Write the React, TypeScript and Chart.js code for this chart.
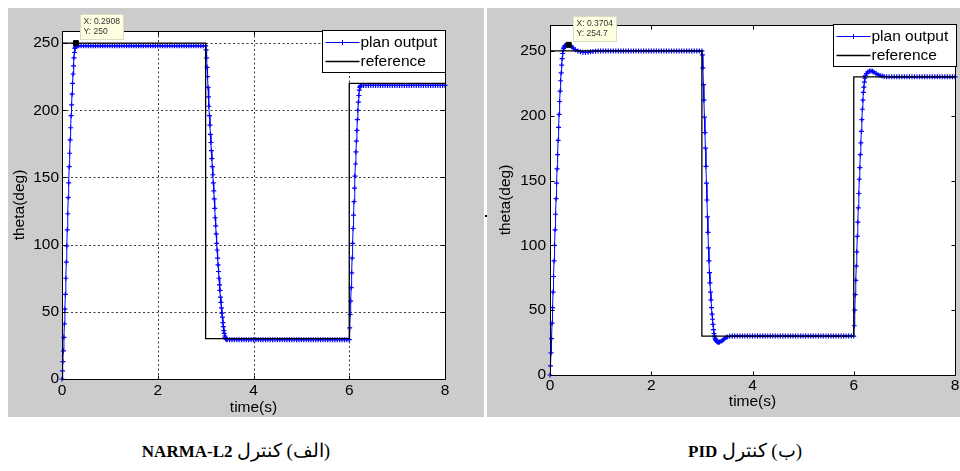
import React, { useEffect, useRef } from "react";
import { Chart, registerables } from "chart.js";

Chart.register(...registerables);

const FONT = '"Liberation Sans", Arial, Helvetica, sans-serif';

const X_TICKS = [0, 2, 4, 6, 8];
const Y_TICKS = [0, 50, 100, 150, 200, 250];
const SERIES_LABELS = ["plan output", "reference"];
const X_TITLE = "time(s)";
const Y_TITLE = "theta(deg)";

// ---------- (a) NARMA-L2 controller ----------
const NARMA_TIME = [
  0, 0.01, 0.02, 0.03, 0.04, 0.05, 0.06, 0.07, 0.08, 0.09, 0.1, 0.11, 0.12, 0.13, 0.14, 0.15, 0.16, 0.17, 0.18, 0.19, 0.2, 0.21, 0.22, 0.23, 0.24, 0.25, 0.26, 0.27, 0.28, 0.29,
  0.3, 0.35, 0.4, 0.45, 0.5, 0.55, 0.6, 0.65, 0.7, 0.75, 0.8, 0.85, 0.9, 0.95, 1, 1.05, 1.1, 1.15, 1.2, 1.25, 1.3, 1.35, 1.4, 1.45, 1.5, 1.55, 1.6, 1.65, 1.7, 1.75, 1.8, 1.85, 1.9, 1.95, 2, 2.05, 2.1, 2.15, 2.2, 2.25, 2.3, 2.35, 2.4, 2.45, 2.5, 2.55, 2.6, 2.65, 2.7, 2.75, 2.8, 2.85, 2.9, 2.95, 3,
  3.01, 3.02, 3.03, 3.04, 3.05, 3.06, 3.07, 3.08, 3.09, 3.1, 3.11, 3.12, 3.13, 3.14, 3.15, 3.16, 3.17, 3.18, 3.19, 3.2, 3.21, 3.22, 3.23, 3.24, 3.25, 3.26, 3.27, 3.28, 3.29, 3.3, 3.31, 3.32, 3.33, 3.34, 3.35, 3.36, 3.37, 3.38, 3.39, 3.4, 3.41, 3.42, 3.43,
  3.45, 3.5, 3.55, 3.6, 3.65, 3.7, 3.75, 3.8, 3.85, 3.9, 3.95, 4, 4.05, 4.1, 4.15, 4.2, 4.25, 4.3, 4.35, 4.4, 4.45, 4.5, 4.55, 4.6, 4.65, 4.7, 4.75, 4.8, 4.85, 4.9, 4.95, 5, 5.05, 5.1, 5.15, 5.2, 5.25, 5.3, 5.35, 5.4, 5.45, 5.5, 5.55, 5.6, 5.65, 5.7, 5.75, 5.8, 5.85, 5.9, 5.95, 6,
  6.01, 6.02, 6.03, 6.04, 6.05, 6.06, 6.07, 6.08, 6.09, 6.1, 6.11, 6.12, 6.13, 6.14, 6.15, 6.16, 6.17, 6.18, 6.19, 6.2, 6.21, 6.22, 6.23, 6.24,
  6.25, 6.3, 6.35, 6.4, 6.45, 6.5, 6.55, 6.6, 6.65, 6.7, 6.75, 6.8, 6.85, 6.9, 6.95, 7, 7.05, 7.1, 7.15, 7.2, 7.25, 7.3, 7.35, 7.4, 7.45, 7.5, 7.55, 7.6, 7.65, 7.7, 7.75, 7.8, 7.85, 7.9, 7.95, 8,
];
const NARMA_OUTPUT = [
  0, 6, 13, 21, 31, 41, 52, 63, 75, 87, 99, 111, 123, 135, 146, 158, 168, 178, 187, 196, 204, 212, 220, 227, 233, 239, 243, 246, 247, 247.5,
  248, 248, 248, 248, 248, 248, 248, 248, 248, 248, 248, 248, 248, 248, 248, 248, 248, 248, 248, 248, 248, 248, 248, 248, 248, 248, 248, 248, 248, 248, 248, 248, 248, 248, 248, 248, 248, 248, 248, 248, 248, 248, 248, 248, 248, 248, 248, 248, 248, 248, 248, 248, 248, 248, 248,
  245, 239, 232, 225, 217, 210, 203, 196, 189, 182, 176, 170, 164, 158, 152, 146, 140, 134, 127, 120, 114, 108, 101, 96, 90, 85, 80, 75, 70, 66, 61, 57, 53, 49, 46, 42, 39, 36, 34, 32, 31, 30, 29.5,
  29.3, 29.3, 29.3, 29.3, 29.3, 29.3, 29.3, 29.3, 29.3, 29.3, 29.3, 29.3, 29.3, 29.3, 29.3, 29.3, 29.3, 29.3, 29.3, 29.3, 29.3, 29.3, 29.3, 29.3, 29.3, 29.3, 29.3, 29.3, 29.3, 29.3, 29.3, 29.3, 29.3, 29.3, 29.3, 29.3, 29.3, 29.3, 29.3, 29.3, 29.3, 29.3, 29.3, 29.3, 29.3, 29.3, 29.3, 29.3, 29.3, 29.3, 29.3, 29.3,
  38, 48, 58, 68, 79, 90, 101, 112, 122, 132, 142, 151, 160, 169, 177, 185, 193, 200, 206, 211, 215, 217, 218, 218.3,
  218.5, 218.5, 218.5, 218.5, 218.5, 218.5, 218.5, 218.5, 218.5, 218.5, 218.5, 218.5, 218.5, 218.5, 218.5, 218.5, 218.5, 218.5, 218.5, 218.5, 218.5, 218.5, 218.5, 218.5, 218.5, 218.5, 218.5, 218.5, 218.5, 218.5, 218.5, 218.5, 218.5, 218.5, 218.5, 218.5,
];
const NARMA_REF_TIME = [0, 0, 3, 3, 6, 6, 8];
const NARMA_REF = [0, 250, 250, 30, 30, 220, 220];
const NARMA_TIP = [0.2908, 250];
const NARMA_TIP_TEXT = ["X: 0.2908", "Y: 250"];
const NARMA_Y_MAX = 259;

// ---------- (b) PID controller ----------
const PID_TIME = [
  0, 0.01, 0.02, 0.03, 0.04, 0.05, 0.06, 0.07, 0.08, 0.09, 0.1, 0.11, 0.12, 0.13, 0.14, 0.15, 0.16, 0.17, 0.18, 0.19, 0.2, 0.21, 0.22, 0.23, 0.24, 0.25, 0.26, 0.27, 0.28, 0.29, 0.3,
  0.32, 0.34, 0.37, 0.4, 0.43, 0.46, 0.5, 0.55, 0.6, 0.65, 0.7, 0.75, 0.8, 0.85, 0.9, 0.95,
  1, 1.05, 1.1, 1.15, 1.2, 1.25, 1.3, 1.35, 1.4, 1.45, 1.5, 1.55, 1.6, 1.65, 1.7, 1.75, 1.8, 1.85, 1.9, 1.95, 2, 2.05, 2.1, 2.15, 2.2, 2.25, 2.3, 2.35, 2.4, 2.45, 2.5, 2.55, 2.6, 2.65, 2.7, 2.75, 2.8, 2.85, 2.9, 2.95, 3,
  3.01, 3.02, 3.03, 3.04, 3.05, 3.06, 3.07, 3.08, 3.09, 3.1, 3.11, 3.12, 3.13, 3.14, 3.15, 3.16, 3.17, 3.18, 3.19, 3.2, 3.21, 3.22, 3.23, 3.24, 3.25, 3.26, 3.27, 3.28, 3.29,
  3.31, 3.33, 3.35, 3.38, 3.41, 3.44, 3.47, 3.5, 3.55, 3.6, 3.65,
  3.7, 3.75, 3.8, 3.85, 3.9, 3.95, 4, 4.05, 4.1, 4.15, 4.2, 4.25, 4.3, 4.35, 4.4, 4.45, 4.5, 4.55, 4.6, 4.65, 4.7, 4.75, 4.8, 4.85, 4.9, 4.95, 5, 5.05, 5.1, 5.15, 5.2, 5.25, 5.3, 5.35, 5.4, 5.45, 5.5, 5.55, 5.6, 5.65, 5.7, 5.75, 5.8, 5.85, 5.9, 5.95, 6,
  6.01, 6.02, 6.03, 6.04, 6.05, 6.06, 6.07, 6.08, 6.09, 6.1, 6.11, 6.12, 6.13, 6.14, 6.15, 6.16, 6.17, 6.18, 6.19, 6.2, 6.21, 6.22, 6.23,
  6.25, 6.28, 6.31, 6.34, 6.37, 6.4, 6.44, 6.48, 6.52, 6.56, 6.6, 6.65, 6.7,
  6.75, 6.8, 6.85, 6.9, 6.95, 7, 7.05, 7.1, 7.15, 7.2, 7.25, 7.3, 7.35, 7.4, 7.45, 7.5, 7.55, 7.6, 7.65, 7.7, 7.75, 7.8, 7.85, 7.9, 7.95, 8,
];
const PID_OUTPUT = [
  0, 7, 17, 28, 40, 52, 64, 76, 88, 100, 112, 124, 136, 148, 159, 170, 181, 191, 201, 211, 219, 227, 233, 239, 244, 248, 250.5, 252, 253, 253.8, 254.2,
  254.5, 254.7, 254.7, 254.2, 253.2, 252.2, 251, 250, 249.4, 249, 248.9, 249, 249.3, 249.6, 249.8, 250,
  250, 250, 250, 250, 250, 250, 250, 250, 250, 250, 250, 250, 250, 250, 250, 250, 250, 250, 250, 250, 250, 250, 250, 250, 250, 250, 250, 250, 250, 250, 250, 250, 250, 250, 250, 250, 250, 250, 250, 250, 250,
  247, 237, 224, 212, 199, 187, 175, 161, 148, 135, 122, 110, 98, 88, 79, 71, 64, 58, 52, 47, 43, 39, 35, 32, 30, 28.5, 27.5, 26.6, 26,
  25.4, 25.2, 25.4, 26, 26.8, 27.8, 28.7, 29.3, 29.8, 30, 30.1,
  30, 30, 30, 30, 30, 30, 30, 30, 30, 30, 30, 30, 30, 30, 30, 30, 30, 30, 30, 30, 30, 30, 30, 30, 30, 30, 30, 30, 30, 30, 30, 30, 30, 30, 30, 30, 30, 30, 30, 30, 30, 30, 30, 30, 30, 30, 30,
  38, 50, 62, 73, 84, 95, 107, 118, 129, 140, 151, 160, 170, 179, 188, 197, 205, 212, 218, 222, 226, 229, 231,
  232.5, 233.8, 234.4, 234.6, 234.3, 233.6, 232.6, 231.7, 231, 230.6, 230.3, 230.1, 230,
  230, 230, 230, 230, 230, 230, 230, 230, 230, 230, 230, 230, 230, 230, 230, 230, 230, 230, 230, 230, 230, 230, 230, 230, 230, 230,
];
const PID_REF_TIME = [0, 0, 3, 3, 6, 6, 8];
const PID_REF = [0, 250, 250, 30, 30, 230, 230];
const PID_TIP = [0.3704, 254.7];
const PID_TIP_TEXT = ["X: 0.3704", "Y: 254.7"];
const PID_Y_MAX = 270;

type PanelProps = {
  left: number;
  top: number;
  width: number;
  height: number;
  time: number[];
  output: number[];
  refTime: number[];
  refValue: number[];
  tip: number[];
  tipText: string[];
  yMax: number;
  grid: boolean;
  padTop: number;
  padRight: number;
  yAxisW: number;
  xAxisH: number;
  yTitlePad: number;
  xTitlePad: number;
  yTickPad: number;
  xTickPad: number;
  legendDx: number;
  legendDy: number;
};

function Panel(p: PanelProps) {
  const ref = useRef<HTMLCanvasElement | null>(null);

  useEffect(() => {
    const canvas = ref.current;
    if (!canvas) return;

    const matlabPlugin = {
      id: "matlabStyle",
      beforeDraw(chart: any) {
        const { ctx, chartArea: a } = chart;
        ctx.save();
        ctx.fillStyle = "#ffffff";
        ctx.fillRect(a.left, a.top, a.right - a.left, a.bottom - a.top);
        ctx.restore();
      },
      beforeDatasetsDraw(chart: any) {
        if (!p.grid) return;
        const { ctx, chartArea: a, scales } = chart;
        ctx.save();
        ctx.strokeStyle = "#3a3a3a";
        ctx.lineWidth = 1;
        ctx.setLineDash([2, 2.5]);
        for (const v of X_TICKS) {
          const px = Math.round(scales.x.getPixelForValue(v)) + 0.5;
          if (Math.abs(px - a.left) < 2 || Math.abs(px - a.right) < 2) continue;
          ctx.beginPath();
          ctx.moveTo(px, a.top);
          ctx.lineTo(px, a.bottom);
          ctx.stroke();
        }
        for (const v of Y_TICKS) {
          const py = Math.round(scales.y.getPixelForValue(v)) + 0.5;
          if (Math.abs(py - a.bottom) < 2 || Math.abs(py - a.top) < 2) continue;
          ctx.beginPath();
          ctx.moveTo(a.left, py);
          ctx.lineTo(a.right, py);
          ctx.stroke();
        }
        ctx.restore();
      },
      afterDatasetsDraw(chart: any) {
        const { ctx, chartArea: a, scales } = chart;
        ctx.save();
        ctx.setLineDash([]);
        ctx.strokeStyle = "#000";
        ctx.lineWidth = 1;
        const L = Math.round(a.left) + 0.5;
        const R = Math.round(a.right) + 0.5;
        const T = Math.round(a.top) + 0.5;
        const B = Math.round(a.bottom) + 0.5;
        ctx.strokeRect(L, T, R - L, B - T);
        ctx.beginPath();
        for (const v of X_TICKS) {
          const px = Math.round(scales.x.getPixelForValue(v)) + 0.5;
          ctx.moveTo(px, B);
          ctx.lineTo(px, B - 4);
          ctx.moveTo(px, T);
          ctx.lineTo(px, T + 4);
        }
        for (const v of Y_TICKS) {
          const py = Math.round(scales.y.getPixelForValue(v)) + 0.5;
          ctx.moveTo(L, py);
          ctx.lineTo(L + 4, py);
          ctx.moveTo(R, py);
          ctx.lineTo(R - 4, py);
        }
        ctx.stroke();

        // legend
        const lw = 123;
        const lh = 42;
        const bx = Math.round(a.right - lw + p.legendDx) + 0.5;
        const by = Math.round(a.top + p.legendDy) + 0.5;
        ctx.fillStyle = "#ffffff";
        ctx.fillRect(bx, by, lw, lh);
        ctx.strokeStyle = "#000";
        ctx.strokeRect(bx, by, lw, lh);
        const r1 = by + 12;
        const r2 = by + 31;
        ctx.strokeStyle = "#0000ff";
        ctx.lineWidth = 1;
        ctx.beginPath();
        ctx.moveTo(bx + 3, r1);
        ctx.lineTo(bx + 37, r1);
        ctx.moveTo(bx + 20, r1 - 2.5);
        ctx.lineTo(bx + 20, r1 + 2.5);
        ctx.moveTo(bx + 17.5, r1);
        ctx.lineTo(bx + 22.5, r1);
        ctx.stroke();
        ctx.strokeStyle = "#000";
        ctx.lineWidth = 1.5;
        ctx.beginPath();
        ctx.moveTo(bx + 3, r2);
        ctx.lineTo(bx + 37, r2);
        ctx.stroke();
        ctx.fillStyle = "#000";
        ctx.font = `15.5px ${FONT}`;
        ctx.textBaseline = "middle";
        ctx.textAlign = "left";
        ctx.fillText(SERIES_LABELS[0], bx + 38, r1);
        ctx.fillText(SERIES_LABELS[1], bx + 38, r2);

        // data tip box
        const tx = scales.x.getPixelForValue(p.tip[0]);
        const ty = scales.y.getPixelForValue(p.tip[1]);
        ctx.font = `8.5px ${FONT}`;
        const tw = Math.ceil(Math.max(...p.tipText.map((s) => ctx.measureText(s).width))) + 6;
        const th = 25;
        const dx = Math.round(tx + 4) + 0.5;
        const dy = Math.round(ty - 4 - th) + 0.5;
        ctx.fillStyle = "#ffffe1";
        ctx.fillRect(dx, dy, tw, th);
        ctx.strokeStyle = "#dcdcc4";
        ctx.lineWidth = 1;
        ctx.strokeRect(dx, dy, tw, th);
        ctx.fillStyle = "#333";
        ctx.fillText(p.tipText[0], dx + 3, dy + 7.5);
        ctx.fillText(p.tipText[1], dx + 3, dy + 17.5);
        ctx.restore();
      },
    };

    const chart = new Chart(canvas, {
      type: "line",
      data: {
        datasets: [
          {
            label: SERIES_LABELS[0],
            data: p.time.map((t, i) => ({ x: t, y: p.output[i] })),
            borderColor: "#0000ff",
            borderWidth: 1,
            pointStyle: "cross",
            pointRadius: 2.5,
            pointBorderColor: "#0000ff",
            pointBorderWidth: 1.2,
            pointHoverRadius: 0,
            tension: 0,
            clip: false,
            order: 2,
          },
          {
            label: SERIES_LABELS[1],
            data: p.refTime.map((t, i) => ({ x: t, y: p.refValue[i] })),
            borderColor: "#000000",
            borderWidth: 1.3,
            pointRadius: 0,
            tension: 0,
            order: 1,
          },
          {
            label: "datatip",
            data: [{ x: p.tip[0], y: p.tip[1] }],
            showLine: false,
            pointStyle: "rect",
            pointRadius: 3.5,
            pointBackgroundColor: "#000",
            pointBorderColor: "#000",
            pointBorderWidth: 1,
            clip: false,
            order: 0,
          },
        ],
      } as any,
      options: {
        animation: false,
        responsive: false,
        maintainAspectRatio: false,
        devicePixelRatio: 1,
        events: [],
        layout: { padding: { top: p.padTop, right: p.padRight, left: 0, bottom: 0 } },
        plugins: {
          legend: { display: false },
          tooltip: { enabled: false },
        },
        scales: {
          x: {
            type: "linear",
            min: 0,
            max: 8,
            grid: { display: false, drawTicks: false },
            border: { display: false },
            ticks: {
              color: "#000",
              font: { family: FONT, size: 15.5 },
              padding: p.xTickPad,
              maxRotation: 0,
              autoSkip: false,
            },
            title: {
              display: true,
              text: X_TITLE,
              color: "#000",
              font: { family: FONT, size: 15.5 },
              padding: { top: 0, bottom: p.xTitlePad },
            },
            afterBuildTicks: (s: any) => {
              s.ticks = X_TICKS.map((v) => ({ value: v }));
            },
            afterFit: (s: any) => {
              s.height = p.xAxisH;
              s.paddingLeft = 0;
              s.paddingRight = 0;
            },
          },
          y: {
            type: "linear",
            min: 0,
            max: p.yMax,
            grid: { display: false, drawTicks: false },
            border: { display: false },
            ticks: {
              color: "#000",
              font: { family: FONT, size: 15.5 },
              padding: p.yTickPad,
              autoSkip: false,
            },
            title: {
              display: true,
              text: Y_TITLE,
              color: "#000",
              font: { family: FONT, size: 15.5 },
              padding: { top: p.yTitlePad, bottom: 0 },
            },
            afterBuildTicks: (s: any) => {
              s.ticks = Y_TICKS.map((v) => ({ value: v }));
            },
            afterFit: (s: any) => {
              s.width = p.yAxisW;
              s.paddingTop = 0;
              s.paddingBottom = 0;
            },
          },
        },
      } as any,
      plugins: [matlabPlugin as any],
    });

    return () => chart.destroy();
  }, []);

  return (
    <div
      style={{
        position: "absolute",
        left: p.left,
        top: p.top,
        width: p.width,
        height: p.height,
        background: "#cccccc",
      }}
    >
      <canvas
        ref={ref}
        width={p.width}
        height={p.height}
        style={{ display: "block", width: p.width, height: p.height }}
      />
    </div>
  );
}

const captionStyle: React.CSSProperties = {
  position: "absolute",
  top: 440,
  width: 400,
  textAlign: "center",
  fontFamily: '"Liberation Serif", "Times New Roman", serif',
  fontSize: 17,
  lineHeight: "22px",
  whiteSpace: "nowrap",
  color: "#000",
};

const persianStyle: React.CSSProperties = { fontSize: 19 };

export default function App() {
  useEffect(() => {
    document.body.style.overflow = "hidden";
  }, []);
  return (
    <div
      style={{
        position: "absolute",
        left: 0,
        top: 0,
        width: 960,
        height: 471,
        overflow: "hidden",
        background: "#ffffff",
      }}
    >
      <Panel
        left={8}
        top={8}
        width={476}
        height={409}
        time={NARMA_TIME}
        output={NARMA_OUTPUT}
        refTime={NARMA_REF_TIME}
        refValue={NARMA_REF}
        tip={NARMA_TIP}
        tipText={NARMA_TIP_TEXT}
        yMax={NARMA_Y_MAX}
        grid={true}
        padTop={23}
        padRight={39}
        yAxisW={54}
        xAxisH={38}
        yTitlePad={2}
        xTitlePad={0}
        yTickPad={3}
        xTickPad={2.5}
        legendDx={0}
        legendDy={-1}
      />
      <Panel
        left={487}
        top={8}
        width={473}
        height={409}
        time={PID_TIME}
        output={PID_OUTPUT}
        refTime={PID_REF_TIME}
        refValue={PID_REF}
        tip={PID_TIP}
        tipText={PID_TIP_TEXT}
        yMax={PID_Y_MAX}
        grid={false}
        padTop={17}
        padRight={3}
        yAxisW={63}
        xAxisH={42}
        yTitlePad={9.7}
        xTitlePad={5.7}
        yTickPad={4}
        xTickPad={1}
        legendDx={1}
        legendDy={-1}
      />
      <div style={{ position: "absolute", left: 485, top: 215, width: 2, height: 2, background: "#000" }} />
      <div dir="rtl" style={{ ...captionStyle, left: 36 }}>
        <span style={persianStyle}>(الف) کنترل</span> <b>NARMA-L2</b>
      </div>
      <div dir="rtl" style={{ ...captionStyle, left: 545 }}>
        <span style={persianStyle}>(ب) کنترل</span> <b>PID</b>
      </div>
    </div>
  );
}
